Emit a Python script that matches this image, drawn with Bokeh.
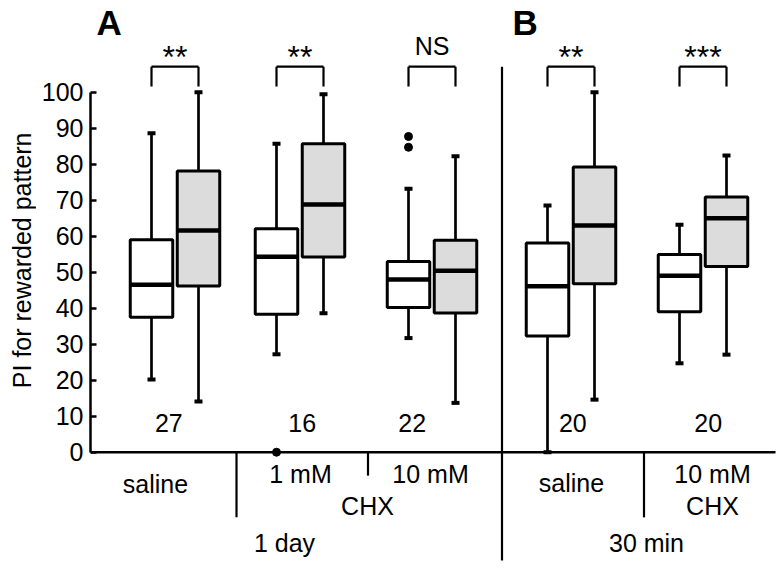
import math
from bokeh.plotting import figure
from bokeh.layouts import row
from bokeh.models import ColumnDataSource, FixedTicker, Range1d
from bokeh.core.properties import value
from bokeh.embed import file_html
from bokeh.resources import INLINE

# ---------------- data ----------------
groups = ["1 day saline", "1 day 1 mM CHX", "1 day 10 mM CHX", "30 min saline", "30 min 10 mM CHX"]
n_flies = [27, 16, 22, 20, 20]

ctrl_low = [20.2, 27.2, 31.7, 0.0, 24.7]
ctrl_q1 = [37.5, 38.3, 40.2, 32.3, 39.0]
ctrl_med = [46.5, 54.3, 48.0, 46.1, 49.0]
ctrl_q3 = [59.0, 62.1, 53.0, 58.1, 54.9]
ctrl_high = [88.6, 85.7, 73.2, 68.5, 63.2]

test_low = [14.1, 38.6, 13.7, 14.6, 27.1]
test_q1 = [46.2, 54.2, 38.7, 46.8, 51.6]
test_med = [61.6, 68.8, 50.4, 63.0, 65.0]
test_q3 = [78.1, 85.7, 58.9, 79.2, 70.9]
test_high = [100.0, 99.4, 82.2, 100.0, 82.4]

outlier_group = [1, 2, 2]
outlier_value = [0.0, 87.7, 84.7]

significance = ["**", "**", "NS", "**", "***"]
y_ticks = [0, 10, 20, 30, 40, 50, 60, 70, 80, 90, 100]
y_title = "PI for rewarded pattern"

dose_labels = ["saline", "1 mM", "10 mM", "saline", "10 mM"]
drug_labels = ["CHX", "CHX"]
time_labels = ["1 day", "30 min"]
panel_labels = ["A", "B"]

# ---------------- layout (positions / sizes) ----------------
PX_PER_UNIT = 3.6
FS = 25
def lift(fs):
    # compensation of the text anchor (data units) for a font size in px
    return 0.38 * fs / PX_PER_UNIT

Y_RANGE = (-32.58, 125.47)
GROUP_X = [84.5, 209.5, 341.5, 480.5, 612.5]
HALF_GAP = 23.5
BOX_W = 42.5
CAP_W = 8
N_LABEL_X = [78.3, 211.7, 321.7, 482.3, 617.7]
N_LABEL_Y = 5.56 + lift(FS)
DOSE_X = [65, 210, 340, 481, 622]
DOSE_Y = [v + lift(FS) for v in [-11.47, -8.79, -8.79, -11.3, -8.79]]
DRUG_X = [277, 622]
DRUG_Y = -17.58 + lift(FS)
TIME_X = [194, 556]
TIME_Y = -27.86 + lift(FS)
PANEL_X = [18.7, 434.7]
PANEL_Y = 115.75 + lift(35)
BR_TOP = 107.1
BR_LEG = 101.6
SIG_Y_STAR = 106.4 + lift(32)
SIG_Y_TEXT = 110.19 + lift(FS)
SEP_X = [146, 277.5, 411.5, 553.5]
SEP_Y0 = [0, 0, BR_TOP, 0]
SEP_Y1 = [-18.1, -6.5, -30.1, -18.1]
X_END = 685
TITLE_W = 36
TITLE_X = 21
TITLE_Y = 53.3

FONT = "Liberation Sans"
GRAY = "#dcdcdc"

# ---- narrow strip holding the y title ----
t = figure(width=TITLE_W, height=569, output_backend="svg", toolbar_location=None,
           x_axis_location=None, y_axis_location=None,
           x_range=Range1d(0, TITLE_W), y_range=Range1d(*Y_RANGE),
           min_border=0)
t.outline_line_color = None
t.xgrid.visible = False
t.ygrid.visible = False
t.text(x=[TITLE_X], y=[TITLE_Y], text=[y_title], angle=math.pi / 2,
       text_font=value(FONT), text_font_size=f"{FS}px", text_color="black",
       text_align="center", text_baseline="middle")

# ---- main chart ----
p = figure(width=780 - TITLE_W, height=569, output_backend="svg", toolbar_location=None,
           x_axis_location=None, x_range=Range1d(0, 690), y_range=Range1d(*Y_RANGE),
           min_border_left=90 - TITLE_W, min_border_right=0, min_border_top=0, min_border_bottom=0)
p.outline_line_color = None
p.xgrid.visible = False
p.ygrid.visible = False
p.background_fill_color = "white"

ax = p.yaxis[0]
ax.bounds = (0, 100)
ax.ticker = FixedTicker(ticks=y_ticks)
ax.minor_tick_line_color = None
ax.major_tick_in = 6
ax.major_tick_out = 0
ax.axis_line_width = 2.5
ax.major_tick_line_width = 2.5
ax.axis_line_color = "black"
ax.major_tick_line_color = "black"
ax.major_label_text_font = FONT
ax.major_label_text_font_size = f"{FS}px"
ax.major_label_text_color = "black"
ax.major_label_standoff = 7

# x baseline
p.segment(x0=[0], y0=[0], x1=[X_END], y1=[0], line_color="black", line_width=2.5)

# separators
p.segment(x0=SEP_X, y0=SEP_Y0, x1=SEP_X, y1=SEP_Y1, line_color="black", line_width=2.2)

def draw_boxes(xs, low, q1, med, q3, high, fill):
    src = ColumnDataSource(dict(x=xs, left=[x - BOX_W / 2 for x in xs], right=[x + BOX_W / 2 for x in xs],
                                low=low, q1=q1, med=med, q3=q3, high=high,
                                cl=[x - CAP_W / 2 for x in xs], cr=[x + CAP_W / 2 for x in xs]))
    p.segment(x0="x", y0="q3", x1="x", y1="high", source=src, line_color="black", line_width=2.7)
    p.segment(x0="x", y0="q1", x1="x", y1="low", source=src, line_color="black", line_width=2.7)
    p.segment(x0="cl", y0="high", x1="cr", y1="high", source=src, line_color="black", line_width=4)
    p.segment(x0="cl", y0="low", x1="cr", y1="low", source=src, line_color="black", line_width=4)
    p.quad(left="left", right="right", bottom="q1", top="q3", source=src,
           fill_color=fill, line_color="black", line_width=3)
    p.segment(x0="left", y0="med", x1="right", y1="med", source=src, line_color="black", line_width=4.5)

ctrl_x = [g - HALF_GAP for g in GROUP_X]
test_x = [g + HALF_GAP for g in GROUP_X]
draw_boxes(ctrl_x, ctrl_low, ctrl_q1, ctrl_med, ctrl_q3, ctrl_high, "white")
draw_boxes(test_x, test_low, test_q1, test_med, test_q3, test_high, GRAY)

p.scatter(x=[ctrl_x[i] for i in outlier_group], y=outlier_value, size=8,
          fill_color="black", line_color="black")

# significance brackets
bx0, by0, bx1, by1 = [], [], [], []
for cx, tx in zip(ctrl_x, test_x):
    bx0 += [cx, cx, tx]
    by0 += [BR_LEG, BR_TOP, BR_TOP]
    bx1 += [cx, tx, tx]
    by1 += [BR_TOP, BR_TOP, BR_LEG]
p.segment(x0=bx0, y0=by0, x1=bx1, y1=by1, line_color="black", line_width=2.2)

star_idx = [i for i, s in enumerate(significance) if s != "NS"]
ns_idx = [i for i, s in enumerate(significance) if s == "NS"]
p.text(x=[GROUP_X[i] for i in star_idx], y=[SIG_Y_STAR] * len(star_idx),
       text=[significance[i] for i in star_idx], text_font=value(FONT), text_font_size="32px",
       text_align="center", text_baseline="alphabetic", text_color="black")
p.text(x=[GROUP_X[i] for i in ns_idx], y=[SIG_Y_TEXT] * len(ns_idx),
       text=[significance[i] for i in ns_idx], text_font=value(FONT), text_font_size=f"{FS}px",
       text_align="center", text_baseline="alphabetic", text_color="black")

# n labels
p.text(x=N_LABEL_X, y=[N_LABEL_Y] * len(n_flies), text=[str(n) for n in n_flies],
       text_font=value(FONT), text_font_size=f"{FS}px", text_align="center",
       text_baseline="alphabetic", text_color="black")

# category labels
p.text(x=DOSE_X, y=DOSE_Y, text=dose_labels, text_font=value(FONT), text_font_size=f"{FS}px",
       text_align="center", text_baseline="alphabetic", text_color="black")
p.text(x=DRUG_X, y=[DRUG_Y] * 2, text=drug_labels, text_font=value(FONT), text_font_size=f"{FS}px",
       text_align="center", text_baseline="alphabetic", text_color="black")
p.text(x=TIME_X, y=[TIME_Y] * 2, text=time_labels, text_font=value(FONT), text_font_size=f"{FS}px",
       text_align="center", text_baseline="alphabetic", text_color="black")

# panel labels
p.text(x=PANEL_X, y=[PANEL_Y] * 2, text=panel_labels, text_font=value(FONT), text_font_size="35px",
       text_font_style="bold", text_align="center", text_baseline="alphabetic", text_color="black")

layout = row(t, p, spacing=0)
open("out.html", "w").write(file_html(layout, INLINE))
